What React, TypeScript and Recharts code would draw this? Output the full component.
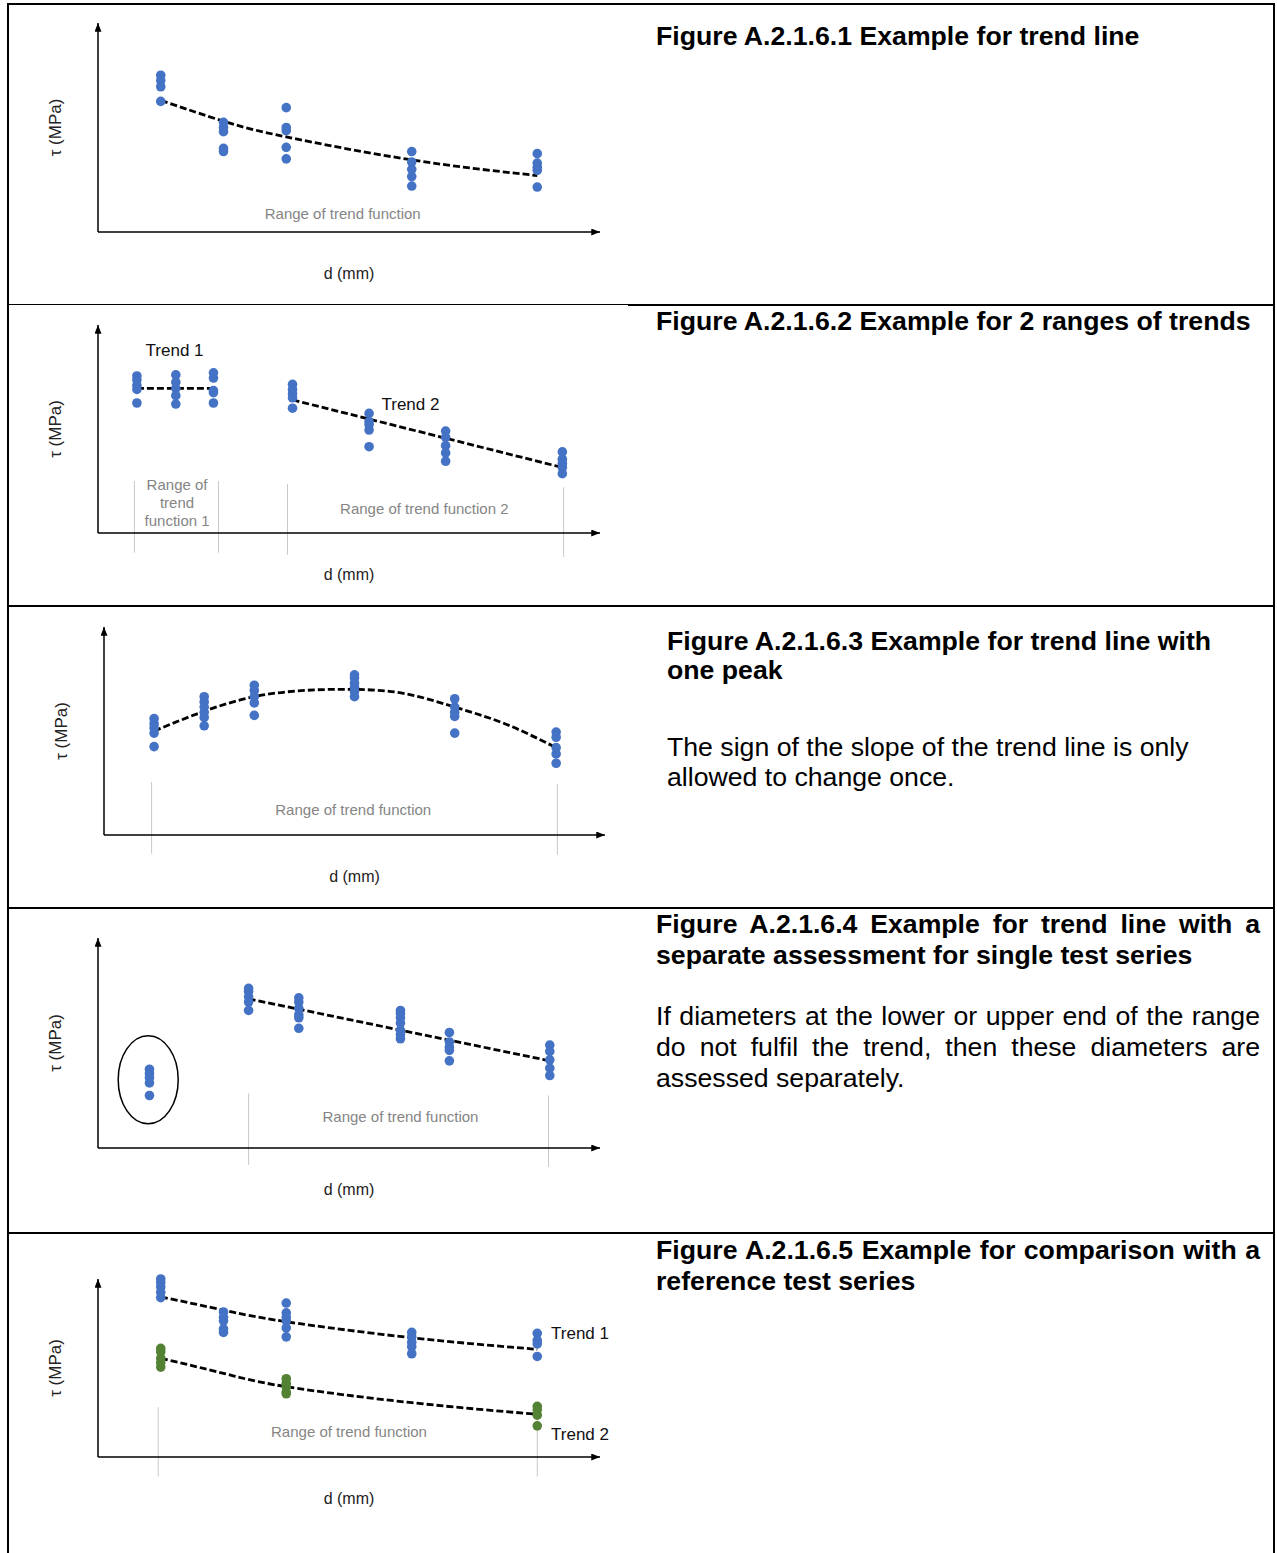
import React from 'react';
import { ComposedChart, Scatter, Line, XAxis, YAxis, ReferenceLine, ReferenceDot } from 'recharts';

const BLUE = '#4472c4';
const GREEN = '#548235';
const RANGE_GREY = '#c8c8c8';
const FONT = '"Liberation Sans", Arial, sans-serif';

// ---- Figure A.2.1.6.1 : one trend ----
const f1Diameters = [5, 10, 15, 25, 35];
const f1Tau = [
  [15.0, 14.5, 13.9, 12.5],
  [10.5, 10.0, 9.6, 8.0, 7.7],
  [11.9, 10.0, 9.7, 8.1, 7.0],
  [7.7, 6.7, 6.0, 5.3, 4.4],
  [7.5, 6.6, 6.2, 5.9, 4.3],
];
const f1Trend = [12.6, 10.6, 9.1, 6.9, 5.4];

// ---- Figure A.2.1.6.2 : two ranges ----
const f2Diameters1 = [3.1, 6.2, 9.2];
const f2Tau1 = [
  [15.1, 14.7, 14.2, 13.8, 12.5],
  [15.2, 14.5, 13.9, 13.2, 12.4],
  [15.4, 14.9, 13.7, 13.5, 12.5],
];
const f2Trend1Diameters = [3.1, 9.2];
const f2Trend1 = [13.9, 13.9];
const f2Diameters2 = [15.5, 21.6, 27.7, 37.0];
const f2Tau2 = [
  [14.3, 13.8, 13.4, 13.0, 12.0],
  [11.5, 10.7, 10.4, 9.9, 8.3],
  [9.8, 9.2, 8.4, 7.7, 6.9],
  [7.8, 7.1, 6.7, 6.3, 5.7],
];
const f2Trend2Diameters = [15.5, 37.0];
const f2Trend2 = [12.8, 6.3];

// ---- Figure A.2.1.6.3 : one peak ----
const f3Diameters = [4.0, 8.0, 12.0, 20.0, 28.0, 36.1];
const f3Tau = [
  [11.2, 10.7, 10.3, 9.8, 8.5],
  [13.3, 12.8, 12.3, 11.8, 11.3, 10.5],
  [14.4, 13.9, 13.3, 12.7, 11.5],
  [15.4, 15.1, 14.6, 14.2, 13.8, 13.3],
  [13.1, 12.3, 11.8, 11.4, 9.8],
  [9.9, 9.4, 8.4, 7.8, 6.9],
];
const f3TrendDiameters = [4, 8, 12, 16, 20, 24, 28, 32, 36.1];
const f3Trend = [10.0, 11.9, 13.3, 13.9, 14.0, 13.6, 12.3, 10.7, 8.4];

// ---- Figure A.2.1.6.4 : separate single series ----
const f4OutlierDiameter = [4.1];
const f4OutlierTau = [[7.5, 7.1, 6.7, 6.2, 5.0]];
const f4Diameters = [12.0, 16.0, 24.1, 28.0, 36.0];
const f4Tau = [
  [15.2, 14.9, 14.4, 13.9, 13.1],
  [14.3, 13.9, 13.3, 12.7, 12.4, 11.4],
  [13.1, 12.8, 12.4, 11.9, 11.2, 10.8, 10.4],
  [11.0, 10.1, 9.6, 9.3, 8.3],
  [9.8, 9.2, 8.4, 7.6, 6.9],
];
const f4TrendDiameters = [12.0, 36.0];
const f4Trend = [14.2, 8.3];

// ---- Figure A.2.1.6.5 : comparison with reference series ----
const f5Diameters = [5, 10, 15, 25, 35];
const f5TauBlue = [
  [20.0, 19.6, 19.1, 18.5, 17.9],
  [16.3, 15.7, 15.3, 14.4, 14.0],
  [17.3, 16.2, 15.7, 15.3, 14.5, 13.5],
  [14.0, 13.5, 12.9, 12.4, 11.6],
  [13.9, 13.1, 12.7, 11.3],
];
const f5TrendBlue = [18.0, 16.5, 15.2, 13.4, 12.1];
const f5GreenDiameters = [5, 15, 35];
const f5TauGreen = [
  [12.2, 11.8, 11.1, 10.6, 10.1],
  [8.8, 8.3, 7.9, 7.3, 7.1],
  [5.7, 5.3, 4.7, 3.5],
];
const f5TrendGreen = [11.1, 9.4, 7.9, 6.1, 4.8];

type Pt = { d: number; tau: number };
const toPoints = (ds: number[], taus: number[][]): Pt[] =>
  ds.flatMap((d, i) => taus[i].map((tau) => ({ d, tau })));
const toCurve = (ds: number[], taus: number[]): Pt[] => ds.map((d, i) => ({ d, tau: taus[i] }));

type Note = { d: number; tau: number; text: string; grey?: boolean; anchor?: 'center' | 'right' };
type Range = { d: number; from: number; to: number };

interface TrendChartProps {
  id: string;
  top: number;
  height: number;
  // plot box in chart-local pixels (where the two axes sit)
  plot: { left: number; right: number; top: number; bottom: number };
  series: { points: Pt[]; color: string }[];
  trends: { points: Pt[]; type: 'linear' | 'natural' }[];
  ranges?: Range[];
  notes?: Note[];
  ellipse?: Pt;
}

const CHART_W = 630;
const DOT_R = 4.8;

const TrendChart: React.FC<TrendChartProps> = ({ id, top, height, plot, series, trends, ranges = [], notes = [], ellipse }) => {
  const marker = `url(#arrow-${id})`;
  // axes need 1px of room or recharts skips drawing them
  const margin = { top: plot.top, right: CHART_W - plot.right, bottom: height - plot.bottom - 1, left: plot.left - 1 };
  return (
    <div style={{ position: 'absolute', left: 0, top, width: CHART_W, height }}>
      <ComposedChart width={CHART_W} height={height} margin={margin} style={{ fontFamily: FONT }}>
        <defs>
          <marker
            id={`arrow-${id}`}
            viewBox="0 0 10 8"
            refX={10}
            refY={4}
            markerWidth={9}
            markerHeight={7}
            markerUnits="userSpaceOnUse"
            orient="auto-start-reverse"
          >
            <path d="M0,0 L10,4 L0,8 z" fill="#000" />
          </marker>
        </defs>
        <XAxis
          type="number"
          dataKey="d"
          domain={[0, 40]}
          height={1}
          tick={false}
          tickLine={false}
          axisLine={{ stroke: '#000', strokeWidth: 1.5, markerEnd: marker }}
          label={{ value: 'd (mm)', position: 'bottom', offset: 35, fill: '#222', fontSize: 16 }}
        />
        <YAxis
          type="number"
          dataKey="tau"
          domain={[0, 20]}
          width={1}
          tick={false}
          tickLine={false}
          axisLine={{ stroke: '#000', strokeWidth: 1.5, markerStart: marker }}
          label={{
            value: 'τ (MPa)',
            angle: -90,
            position: 'left',
            offset: 42,
            fill: '#222',
            fontSize: 17,
            style: { textAnchor: 'middle' },
          }}
        />
        {ranges.map((r, i) => (
          <ReferenceLine
            key={`r${i}`}
            segment={[{ x: r.d, y: r.from }, { x: r.d, y: r.to }]}
            stroke={RANGE_GREY}
            strokeWidth={1}
            ifOverflow="visible"
          />
        ))}
        {notes.map((n, i) => (
          <ReferenceDot
            key={`n${i}`}
            x={n.d}
            y={n.tau}
            r={0}
            fill="none"
            stroke="none"
            label={{
              value: n.text,
              position: n.anchor ?? 'center',
              offset: 0,
              fill: n.grey ? '#858585' : '#111',
              fontSize: n.grey ? 15 : 17,
            }}
          />
        ))}
        {ellipse && (
          <ReferenceDot
            x={ellipse.d}
            y={ellipse.tau}
            r={44}
            shape={(p: any) => (
              <ellipse cx={p.cx} cy={p.cy} rx={30} ry={44} fill="none" stroke="#000" strokeWidth={1.5} />
            )}
          />
        )}
        {series.map((s, i) => (
          <Scatter
            key={`s${i}`}
            data={s.points}
            dataKey="tau"
            fill={s.color}
            isAnimationActive={false}
            shape={(p: any) => <circle cx={p.cx} cy={p.cy} r={DOT_R} fill={s.color} />}
          />
        ))}
        {trends.map((t, i) => (
          <Line
            key={`t${i}`}
            data={t.points}
            dataKey="tau"
            type={t.type}
            stroke="#000"
            strokeWidth={2.8}
            strokeDasharray="7 3"
            dot={false}
            activeDot={false}
            isAnimationActive={false}
          />
        ))}
      </ComposedChart>
    </div>
  );
};

const lineStyle = (top: number, left: number, bold: boolean, justify = false): React.CSSProperties => ({
  position: 'absolute',
  top,
  left,
  width: 604,
  fontFamily: FONT,
  fontSize: 26.67,
  lineHeight: '31px',
  fontWeight: bold ? 700 : 400,
  color: '#000',
  whiteSpace: 'nowrap',
  textAlign: justify ? 'justify' : 'left',
  textAlignLast: justify ? 'justify' : 'left',
});

const hRule = (top: number, thin = false): React.CSSProperties[] => [
  { position: 'absolute', left: 7, top, width: 621, height: thin ? 1 : 2, background: '#000' },
  { position: 'absolute', left: 628, top, width: 647, height: 2, background: '#000' },
];

export default function App() {
  const rules = [hRule(3), hRule(304, true), hRule(605), hRule(907), hRule(1232)].flat();
  return (
    <div style={{ position: 'absolute', left: 0, top: 0, width: 1277, height: 1553, background: '#fff', overflow: 'hidden' }}>
      {/* table rules */}
      {rules.map((s, i) => (
        <div key={i} style={s} />
      ))}
      <div style={{ position: 'absolute', left: 7, top: 3, width: 2, height: 1550, background: '#000' }} />
      <div style={{ position: 'absolute', left: 1273, top: 3, width: 2, height: 1550, background: '#000' }} />

      <TrendChart
        id="f1"
        top={4}
        height={300}
        plot={{ left: 98, right: 600, top: 19, bottom: 228 }}
        series={[{ points: toPoints(f1Diameters, f1Tau), color: BLUE }]}
        trends={[{ points: toCurve(f1Diameters, f1Trend), type: 'natural' }]}
        notes={[{ d: 19.5, tau: 1.8, text: 'Range of trend function', grey: true }]}
      />

      <TrendChart
        id="f2"
        top={305}
        height={300}
        plot={{ left: 98, right: 600, top: 20, bottom: 228 }}
        series={[
          { points: toPoints(f2Diameters1, f2Tau1), color: BLUE },
          { points: toPoints(f2Diameters2, f2Tau2), color: BLUE },
        ]}
        trends={[
          { points: toCurve(f2Trend1Diameters, f2Trend1), type: 'linear' },
          { points: toCurve(f2Trend2Diameters, f2Trend2), type: 'linear' },
        ]}
        ranges={[
          { d: 2.9, from: 5.0, to: -1.9 },
          { d: 9.6, from: 5.0, to: -1.9 },
          { d: 15.1, from: 4.7, to: -2.1 },
          { d: 37.1, from: 4.4, to: -2.3 },
        ]}
        notes={[
          { d: 6.1, tau: 17.6, text: 'Trend 1' },
          { d: 24.9, tau: 12.4, text: 'Trend 2' },
          { d: 6.3, tau: 4.6, text: 'Range of', grey: true },
          { d: 6.3, tau: 2.9, text: 'trend', grey: true },
          { d: 6.3, tau: 1.2, text: 'function 1', grey: true },
          { d: 26.0, tau: 2.3, text: 'Range of trend function 2', grey: true },
        ]}
      />

      <TrendChart
        id="f3"
        top={607}
        height={300}
        plot={{ left: 104, right: 605, top: 20, bottom: 228 }}
        series={[{ points: toPoints(f3Diameters, f3Tau), color: BLUE }]}
        trends={[{ points: toCurve(f3TrendDiameters, f3Trend), type: 'natural' }]}
        ranges={[
          { d: 3.8, from: 5.1, to: -1.8 },
          { d: 36.2, from: 4.9, to: -1.9 },
        ]}
        notes={[{ d: 19.9, tau: 2.4, text: 'Range of trend function', grey: true }]}
      />

      <TrendChart
        id="f4"
        top={908}
        height={320}
        plot={{ left: 98, right: 600, top: 30, bottom: 240 }}
        series={[
          { points: toPoints(f4OutlierDiameter, f4OutlierTau), color: BLUE },
          { points: toPoints(f4Diameters, f4Tau), color: BLUE },
        ]}
        trends={[{ points: toCurve(f4TrendDiameters, f4Trend), type: 'linear' }]}
        ranges={[
          { d: 12.0, from: 5.2, to: -1.6 },
          { d: 35.9, from: 5.0, to: -1.8 },
        ]}
        notes={[{ d: 24.1, tau: 3.0, text: 'Range of trend function', grey: true }]}
        ellipse={{ d: 4.0, tau: 6.5 }}
      />

      <TrendChart
        id="f5"
        top={1233}
        height={300}
        plot={{ left: 98, right: 600, top: 46, bottom: 224 }}
        series={[
          { points: toPoints(f5Diameters, f5TauBlue), color: BLUE },
          { points: toPoints(f5GreenDiameters, f5TauGreen), color: GREEN },
        ]}
        trends={[
          { points: toCurve(f5Diameters, f5TrendBlue), type: 'natural' },
          { points: toCurve(f5Diameters, f5TrendGreen), type: 'natural' },
        ]}
        ranges={[
          { d: 4.8, from: 5.6, to: -2.2 },
          { d: 35.0, from: 5.6, to: -2.2 },
        ]}
        notes={[
          { d: 20.0, tau: 2.8, text: 'Range of trend function', grey: true },
          { d: 36.1, tau: 13.9, text: 'Trend 1', anchor: 'right' },
          { d: 36.1, tau: 2.6, text: 'Trend 2', anchor: 'right' },
        ]}
      />

      {/* caption column */}
      <div style={lineStyle(21, 656, true)}>Figure A.2.1.6.1 Example for trend line</div>

      <div style={lineStyle(306, 656, true)}>Figure A.2.1.6.2 Example for 2 ranges of trends</div>

      <div style={lineStyle(626, 667, true)}>Figure A.2.1.6.3 Example for trend line with</div>
      <div style={lineStyle(655, 667, true)}>one peak</div>
      <div style={lineStyle(732, 667, false)}>The sign of the slope of the trend line is only</div>
      <div style={lineStyle(762, 667, false)}>allowed to change once.</div>

      <div style={lineStyle(909, 656, true, true)}>Figure A.2.1.6.4 Example for trend line with a</div>
      <div style={lineStyle(940, 656, true)}>separate assessment for single test series</div>
      <div style={lineStyle(1001, 656, false, true)}>If diameters at the lower or upper end of the range</div>
      <div style={lineStyle(1032, 656, false, true)}>do not fulfil the trend, then these diameters are</div>
      <div style={lineStyle(1063, 656, false)}>assessed separately.</div>

      <div style={lineStyle(1235, 656, true, true)}>Figure A.2.1.6.5 Example for comparison with a</div>
      <div style={lineStyle(1266, 656, true)}>reference test series</div>
    </div>
  );
}
